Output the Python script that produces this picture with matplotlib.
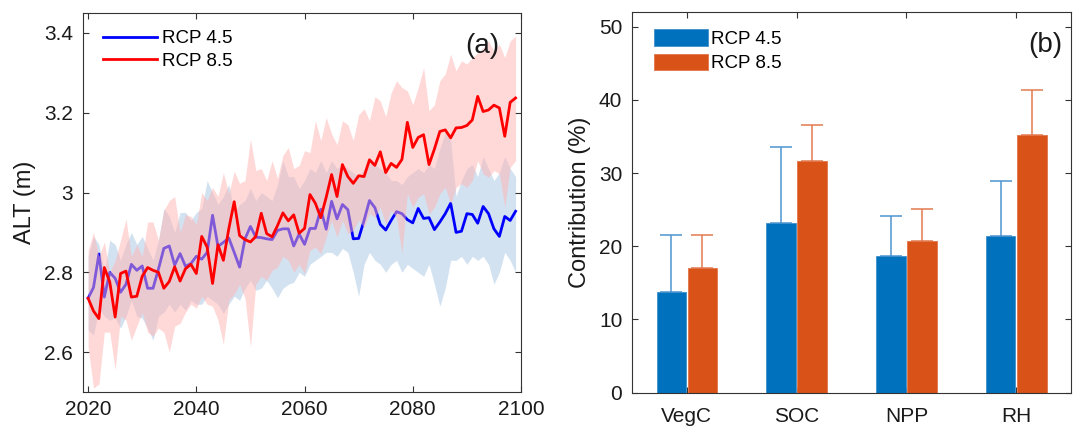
import matplotlib
matplotlib.use('Agg')
import matplotlib.pyplot as plt
import numpy as np

plt.rcParams['font.family'] = ['Liberation Sans', 'DejaVu Sans']

### Data ###

years = np.arange(2020, 2100)

alt_rcp45 = [2.735, 2.762, 2.846, 2.738, 2.800, 2.785, 2.750, 2.770, 2.820, 2.805,
             2.816, 2.760, 2.760, 2.808, 2.860, 2.866, 2.818, 2.847, 2.815, 2.822,
             2.840, 2.833, 2.850, 2.943, 2.865, 2.875, 2.886, 2.850, 2.813, 2.884,
             2.915, 2.888, 2.887, 2.884, 2.882, 2.905, 2.909, 2.909, 2.866, 2.896,
             2.870, 2.910, 2.910, 2.958, 2.908, 2.978, 2.934, 2.970, 2.957, 2.884,
             2.885, 2.930, 2.980, 2.962, 2.920, 2.906, 2.930, 2.952, 2.947, 2.932,
             2.924, 2.960, 2.935, 2.937, 2.907, 2.926, 2.947, 2.973, 2.900, 2.903,
             2.947, 2.945, 2.923, 2.965, 2.947, 2.909, 2.890, 2.940, 2.930, 2.953]

alt_rcp85 = [2.735, 2.703, 2.684, 2.812, 2.776, 2.688, 2.797, 2.803, 2.738, 2.740,
             2.790, 2.812, 2.805, 2.800, 2.760, 2.777, 2.814, 2.778, 2.809, 2.820,
             2.797, 2.890, 2.863, 2.772, 2.869, 2.830, 2.909, 2.977, 2.892, 2.882,
             2.876, 2.890, 2.948, 2.897, 2.889, 2.917, 2.949, 2.929, 2.944, 2.898,
             2.910, 2.995, 2.973, 2.937, 2.988, 3.045, 2.990, 3.070, 3.040, 3.023,
             3.042, 3.040, 3.082, 3.068, 3.102, 3.050, 3.073, 3.063, 3.083, 3.176,
             3.113, 3.138, 3.145, 3.070, 3.109, 3.153, 3.157, 3.137, 3.162, 3.163,
             3.168, 3.182, 3.241, 3.203, 3.207, 3.219, 3.212, 3.141, 3.226, 3.237]

# Model spread (upper / lower envelope)
alt_rcp45_hi = [2.84, 2.89, 2.87, 2.80, 2.88, 2.87, 2.83, 2.87, 2.90, 2.87,
                2.89, 2.86, 2.83, 2.88, 2.96, 2.94, 2.90, 2.95, 2.95, 2.93,
                2.95, 2.96, 3.03, 3.00, 2.97, 2.99, 3.02, 2.95, 2.97, 2.98,
                3.01, 2.98, 3.00, 2.99, 2.98, 3.02, 3.08, 3.04, 3.04, 3.01,
                3.03, 3.06, 3.05, 3.08, 3.05, 3.08, 3.06, 3.07, 3.06, 3.05,
                3.04, 3.06, 3.09, 3.07, 3.06, 3.05, 3.03, 3.03, 3.02, 3.04,
                3.05, 3.06, 3.05, 3.07, 3.06, 3.11, 3.15, 3.13, 2.99, 3.03,
                3.06, 3.07, 3.04, 3.09, 3.06, 3.03, 3.05, 3.09, 3.06, 3.04]

alt_rcp45_lo = [2.655, 2.643, 2.71, 2.69, 2.68, 2.685, 2.66, 2.69, 2.73, 2.69,
                2.685, 2.66, 2.63, 2.69, 2.70, 2.72, 2.70, 2.72, 2.705, 2.73,
                2.72, 2.72, 2.74, 2.73, 2.72, 2.697, 2.72, 2.74, 2.73, 2.76,
                2.78, 2.755, 2.76, 2.78, 2.76, 2.736, 2.76, 2.77, 2.775, 2.80,
                2.79, 2.82, 2.83, 2.84, 2.85, 2.85, 2.84, 2.86, 2.85, 2.80,
                2.74, 2.82, 2.85, 2.83, 2.82, 2.80, 2.82, 2.83, 2.80, 2.82,
                2.81, 2.80, 2.79, 2.82, 2.77, 2.715, 2.76, 2.83, 2.83, 2.84,
                2.82, 2.84, 2.83, 2.84, 2.82, 2.77, 2.80, 2.85, 2.83, 2.80]

alt_rcp85_hi = [2.855, 2.90, 2.84, 2.876, 2.80, 2.83, 2.88, 2.934, 2.84, 2.87,
                2.84, 2.926, 2.926, 2.88, 2.955, 2.98, 2.99, 2.90, 2.945, 2.94,
                2.92, 3.00, 2.98, 3.013, 2.99, 3.05, 2.997, 3.053, 3.023, 3.03,
                3.134, 3.055, 3.06, 3.03, 3.08, 3.035, 3.093, 3.113, 3.06, 3.068,
                3.105, 3.10, 3.18, 3.13, 3.188, 3.147, 3.12, 3.18, 3.17, 3.13,
                3.195, 3.21, 3.18, 3.24, 3.23, 3.19, 3.25, 3.28, 3.263, 3.255,
                3.22, 3.263, 3.313, 3.205, 3.22, 3.28, 3.297, 3.347, 3.305, 3.33,
                3.322, 3.338, 3.35, 3.363, 3.38, 3.355, 3.372, 3.338, 3.38, 3.392]

alt_rcp85_lo = [2.613, 2.51, 2.52, 2.65, 2.65, 2.555, 2.69, 2.68, 2.63, 2.665,
                2.70, 2.65, 2.64, 2.66, 2.65, 2.60, 2.665, 2.672, 2.70, 2.72,
                2.71, 2.74, 2.72, 2.715, 2.68, 2.62, 2.73, 2.745, 2.77, 2.735,
                2.613, 2.77, 2.79, 2.78, 2.805, 2.813, 2.84, 2.83, 2.80, 2.82,
                2.797, 2.855, 2.863, 2.847, 2.888, 2.93, 2.888, 2.93, 2.897, 2.905,
                2.93, 2.913, 2.947, 2.938, 2.963, 2.92, 2.955, 2.938, 2.847, 2.997,
                2.963, 2.988, 2.997, 2.947, 2.963, 2.997, 3.013, 2.972, 3.013, 3.022,
                3.013, 3.03, 3.08, 3.047, 3.038, 3.055, 3.047, 2.963, 3.063, 3.08]

categories = ['VegC', 'SOC', 'NPP', 'RH']
contrib_rcp45 = [13.7, 23.2, 18.7, 21.45]
contrib_rcp85 = [17.0, 31.7, 20.7, 35.15]
contrib_err_rcp45 = [7.9, 10.4, 5.4, 7.45]   # upper error only
contrib_err_rcp85 = [4.6, 4.9, 4.4, 6.25]

### Figure ###

axis_color = '#333333'

fig = plt.figure(figsize=(10.78, 4.26), dpi=100)
ax1 = fig.add_axes([0.0767, 0.0798, 0.4066, 0.8897])
ax2 = fig.add_axes([0.5863, 0.0782, 0.4072, 0.8937])

for ax in (ax1, ax2):
    ax.tick_params(direction='in', top=True, right=True, length=4, width=0.8,
                   colors=axis_color, labelsize=15, labelcolor='#1a1a1a')
    ax.tick_params(axis='y', pad=7)
    ax.tick_params(axis='x', pad=6)
    for spine in ax.spines.values():
        spine.set_color(axis_color)
        spine.set_linewidth(0.8)

# (a) active layer thickness
ax1.fill_between(years, alt_rcp45_lo, alt_rcp45_hi, color='#d3e2f1', lw=0, zorder=1)
ax1.plot(years, alt_rcp45, color='#0000ff', lw=2, label='RCP 4.5', zorder=2)
ax1.fill_between(years, alt_rcp85_lo, alt_rcp85_hi, color=(1.0, 0.7, 0.7),
                 alpha=0.5, lw=0, zorder=3)
ax1.plot(years, alt_rcp85, color='#ff0000', lw=2, label='RCP 8.5', zorder=4)

ax1.set_xlim(2019, 2100)
ax1.set_ylim(2.5, 3.45)
ax1.set_xticks([2020, 2040, 2060, 2080, 2100])
ax1.set_yticks([2.6, 2.8, 3.0, 3.2, 3.4])
ax1.set_yticklabels(['2.6', '2.8', '3', '3.2', '3.4'])
ax1.set_ylabel('ALT (m)', fontsize=17, color='#1a1a1a', labelpad=6)
ax1.legend(loc='upper left', bbox_to_anchor=(0.046, 0.955), frameon=False,
           fontsize=13.5, handlelength=2.9, handletextpad=0.25,
           labelspacing=0.3, borderpad=0, borderaxespad=0)
ax1.text(0.911, 0.913, '(a)', transform=ax1.transAxes, fontsize=20,
         ha='center', va='center', color='#1a1a1a')

# (b) contribution of carbon variables
x = np.arange(1, len(categories) + 1)
bar_w = 0.27
off = 0.142
ax2.errorbar(x - off, contrib_rcp45, yerr=[np.zeros(4), contrib_err_rcp45],
             fmt='none', ecolor='#4d94cf', elinewidth=1.1, capsize=8, capthick=1.1,
             zorder=1)
ax2.errorbar(x + off, contrib_rcp85, yerr=[np.zeros(4), contrib_err_rcp85],
             fmt='none', ecolor='#e27a4f', elinewidth=1.1, capsize=8, capthick=1.1,
             zorder=1)
ax2.bar(x - off, contrib_rcp45, bar_w, color='#0072bd', edgecolor='#3f8fcc',
        lw=0.6, label='RCP 4.5', zorder=2)
ax2.bar(x + off, contrib_rcp85, bar_w, color='#d95319', edgecolor='#e2764a',
        lw=0.6, label='RCP 8.5', zorder=2)

ax2.set_xlim(0.5, 4.5)
ax2.set_ylim(0, 52)
ax2.set_xticks(x)
ax2.set_xticklabels(categories)
ax2.set_yticks([0, 10, 20, 30, 40, 50])
ax2.tick_params(axis='x', pad=10)
ax2.set_ylabel('Contribution (%)', fontsize=17, color='#1a1a1a', labelpad=6)
ax2.legend(loc='upper left', bbox_to_anchor=(0.05, 0.955), frameon=False,
           fontsize=13.5, handlelength=2.9, handleheight=1.0, handletextpad=0.15,
           labelspacing=0.3, borderpad=0, borderaxespad=0)
ax2.text(0.941, 0.913, '(b)', transform=ax2.transAxes, fontsize=20,
         ha='center', va='center', color='#1a1a1a')

fig.savefig('out.png', dpi=100)
